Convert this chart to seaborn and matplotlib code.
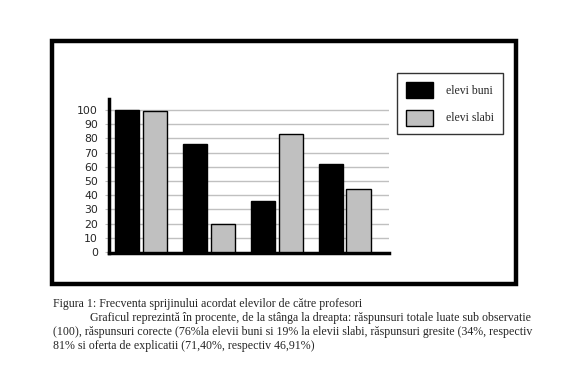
import matplotlib
matplotlib.use("Agg")
import matplotlib.pyplot as plt
import matplotlib.patches as mpatches
import pandas as pd
import seaborn as sns

# values (left to right)
categories = ["raspunsuri totale", "raspunsuri corecte", "raspunsuri gresite", "oferta de explicatii"]
elevi_buni = [100, 76, 36, 62]
elevi_slabi = [99, 20, 83, 44]
series_names = ["elevi buni", "elevi slabi"]
yticks = list(range(0, 101, 10))

caption = [
    "Figura 1: Frecventa sprijinului acordat elevilor de către profesori",
    "Graficul reprezintă în procente, de la stânga la dreapta: răspunsuri totale luate sub observatie",
    "(100), răspunsuri corecte (76%la elevii buni si 19% la elevii slabi, răspunsuri gresite (34%, respectiv",
    "81% si oferta de explicatii (71,40%, respectiv 46,91%)",
]

df = pd.DataFrame({
    "cat": categories * 2,
    "val": elevi_buni + elevi_slabi,
    "grup": [series_names[0]] * 4 + [series_names[1]] * 4,
})

sns.set_style("white")
W, H = 587, 384
fig = plt.figure(figsize=(W / 100, H / 100), dpi=100)

# outer frame
fig.patches.append(mpatches.Rectangle((52 / W, 1 - 284 / H), (516 - 52) / W, (284 - 41) / H,
                                      transform=fig.transFigure, fill=False,
                                      edgecolor="black", linewidth=3.2))

ax = fig.add_axes([109 / W, 1 - 253 / H, (389 - 109) / W, (253 - 99) / H])
colors = {"elevi buni": "black", "elevi slabi": "#c0c0c0"}
sns.barplot(data=df, x="cat", y="val", hue="grup", palette=colors, ax=ax,
            width=0.82, gap=0.12, edgecolor="black", linewidth=1.0,
            legend=False, zorder=3)

ax.set_ylim(-0.7, 107.7)
ax.set_xlim(-0.47, 3.65)
ax.set_yticks(yticks)
ax.set_yticklabels([str(t) for t in yticks], fontsize=7.8, family="DejaVu Sans")
ax.set_xticks([])
ax.set_xlabel("")
ax.set_ylabel("")
for t in yticks[1:]:
    ax.axhline(t, color="#c0c0c0", linewidth=1.0, zorder=1)
ax.tick_params(axis="y", length=3, color="#c0c0c0", pad=5, left=True)
for s in ["top", "right"]:
    ax.spines[s].set_visible(False)
ax.spines["left"].set_linewidth(2.5)
ax.spines["bottom"].set_linewidth(2.5)
ax.spines["left"].set_color("black")
ax.spines["bottom"].set_color("black")

handles = [mpatches.Patch(facecolor=colors[n], edgecolor="black", linewidth=1.0) for n in series_names]
leg = fig.legend(handles, series_names, loc="upper left",
                 bbox_to_anchor=(397 / W, 1 - 73 / H), frameon=True, fancybox=False,
                 prop={"family": "Liberation Serif", "size": 8.5},
                 handlelength=2.3, handleheight=1.7, labelspacing=1.0,
                 borderpad=0.75, handletextpad=1.1, borderaxespad=0)
leg.get_frame().set_edgecolor("black")
leg.get_frame().set_linewidth(1.0)
leg.get_frame().set_boxstyle("square", pad=0)

ys = [304, 318, 332, 346]
xs = [53, 90, 53, 53]
for line, x, y in zip(caption, xs, ys):
    fig.text(x / W, 1 - y / H, line, family="Liberation Serif", fontsize=8.6, va="center", ha="left")

fig.savefig("out.png", dpi=100)
